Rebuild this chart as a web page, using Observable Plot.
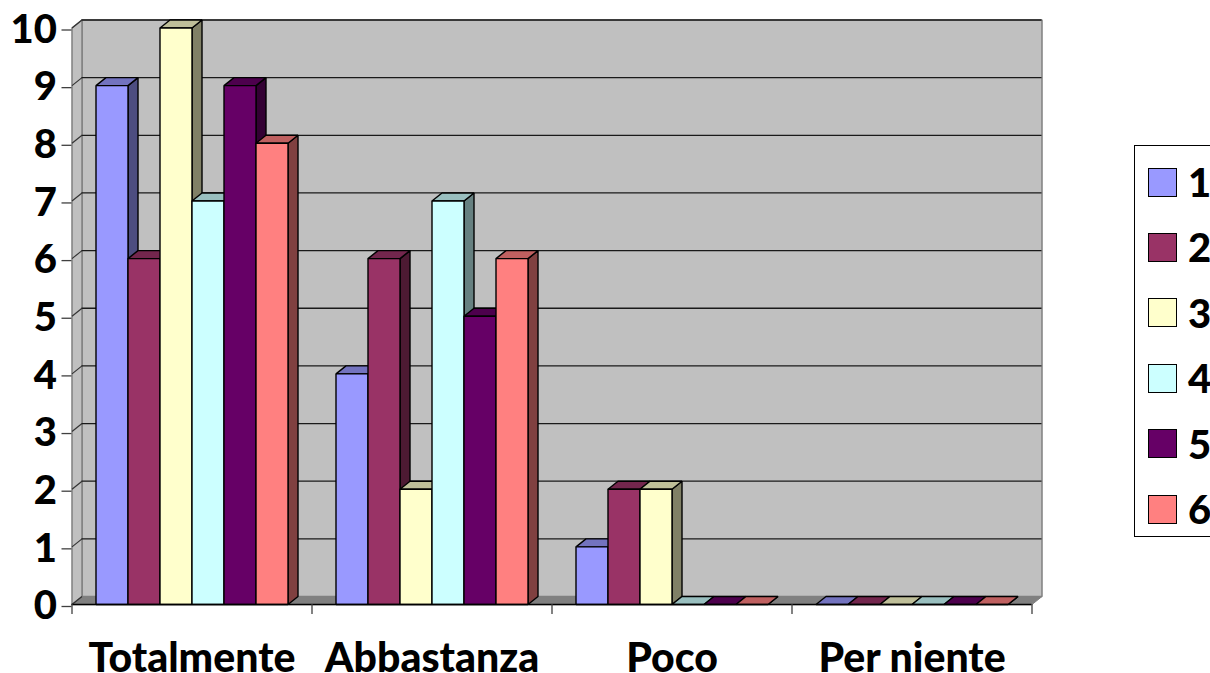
<!DOCTYPE html>
<html>
<head>
<meta charset="utf-8">
<script src="https://cdn.jsdelivr.net/npm/d3@7"></script>
<script src="https://cdn.jsdelivr.net/npm/@observablehq/plot@0.6"></script>
<style>
html,body{margin:0;padding:0;background:#fff;width:1210px;height:673px;overflow:hidden}
#chart{position:relative;width:1210px;height:673px;overflow:hidden}
#chart svg{display:block;position:absolute;left:0;top:0}
#legend{position:absolute;left:1134px;top:145px;width:90px;height:392px;border:1.5px solid #000;background:#fff;box-sizing:border-box;font:900 40px Lato,sans-serif;color:#000}
#legend .row{position:absolute;left:13px;height:30px;display:flex;align-items:center}
#legend .sw{width:29px;height:29px;border:1.5px solid #000;box-sizing:border-box;margin-right:11px}
</style>
</head>
<body>
<div id="chart"></div>
<script>
const categories = ["Totalmente", "Abbastanza", "Poco", "Per niente"];
const seriesNames = ["1", "2", "3", "4", "5", "6"];
const series1 = [9, 4, 1, 0];
const series2 = [6, 6, 2, 0];
const series3 = [10, 2, 2, 0];
const series4 = [7, 7, 0, 0];
const series5 = [9, 5, 0, 0];
const series6 = [8, 6, 0, 0];
const seriesValues = [series1, series2, series3, series4, series5, series6];
const frontColors = ["#9999ff", "#993366", "#ffffcc", "#ccffff", "#660066", "#ff8080"];
const topColors = ["#7373bf", "#73264d", "#bfbf99", "#99bfbf", "#4d004d", "#bf6060"];
const sideColors = ["#4d4d80", "#4d1a33", "#808066", "#668080", "#330033", "#804040"];
const yTicks = [0, 1, 2, 3, 4, 5, 6, 7, 8, 9, 10];
const xBounds = [0, 1, 2, 3, 4];

// depth of the pseudo-3D box in data units
const depthX = 10 / 240;
const depthY = 8 / 57.65;
const barW = 32 / 240;
const groupPad = 24 / 240;

const poly = (id, fill, pts) => pts.map(([x, y]) => ({id, fill, x, y}));

const walls = [
  ...poly("back", "#c0c0c0", [[depthX, depthY], [depthX, 10 + depthY], [4 + depthX, 10 + depthY], [4 + depthX, depthY]]),
  ...poly("left", "#c0c0c0", [[0, 0], [0, 10], [depthX, 10 + depthY], [depthX, depthY]])
];
const floor = poly("floor", "#808080", [[0, 0], [depthX, depthY], [4 + depthX, depthY], [4, 0]]);

const faces = [];
categories.forEach((c, i) => {
  seriesValues.forEach((vals, s) => {
    const v = vals[i];
    const x0 = i + groupPad + s * barW, x1 = x0 + barW;
    faces.push(...poly(`side-${i}-${s}`, sideColors[s], [[x1, 0], [x1 + depthX, depthY], [x1 + depthX, v + depthY], [x1, v]]));
    faces.push(...poly(`top-${i}-${s}`, topColors[s], [[x0, v], [x0 + depthX, v + depthY], [x1 + depthX, v + depthY], [x1, v]]));
    if (v > 0) faces.push(...poly(`front-${i}-${s}`, frontColors[s], [[x0, 0], [x0, v], [x1, v], [x1, 0]]));
  });
});

const polyMark = (data, stroke, strokeWidth) => Plot.line(data, {
  x: "x", y: "y", z: "id", fill: "fill", stroke, strokeWidth, curve: "linear-closed", strokeLinejoin: "miter"
});

const plot = Plot.plot({
  width: 1210,
  height: 673,
  marginLeft: 71.5,
  marginRight: 178.5,
  marginTop: 27.5,
  marginBottom: 69,
  style: {background: "transparent", overflow: "visible"},
  x: {domain: [0, 4], range: [71.5, 1031.5]},
  y: {domain: [0, 10], range: [604, 27.5]},
  color: {type: "identity"},
  marks: [
    polyMark(walls, "#808080", 1.5),
    polyMark(floor, "#808080", 1),
    Plot.ruleY(yTicks.slice(1), {y: d => d + depthY, x1: depthX, x2: 4 + depthX, stroke: "#1a1a1a", strokeWidth: 1.3}),
    Plot.link(yTicks, {x1: 0, x2: depthX, y1: d => d, y2: d => d + depthY, stroke: "#333", strokeWidth: 1.2}),
    polyMark(faces, "#000", 1.4),
    Plot.ruleY([0], {x1: 0, x2: 4, stroke: "#000", strokeWidth: 1.5}),
    Plot.axisY({
      ticks: yTicks, anchor: "left", tickSize: 10, tickPadding: 5, label: null,
      fontSize: 40, fontWeight: 900, fontFamily: "Lato, sans-serif", stroke: "#404040", strokeWidth: 1.3, fill: "#000",
      tickFormat: d => String(d), dy: 2
    }),
    Plot.axisX({
      ticks: xBounds, anchor: "bottom", tickSize: 10, tickFormat: () => "", label: null,
      stroke: "#404040", strokeWidth: 1.3
    }),
    Plot.text(categories, {
      x: (d, i) => i + 0.5, y: 0, text: d => d, dy: 54,
      fontSize: 41, fontWeight: 900, fontFamily: "Lato, sans-serif", fill: "#000"
    })
  ]
});
const root = document.getElementById("chart");
root.appendChild(plot);

const legend = document.createElement("div");
legend.id = "legend";
seriesNames.forEach((n, i) => {
  const row = document.createElement("div");
  row.className = "row";
  row.style.top = (21 + i * 65.4) + "px";
  const sw = document.createElement("div");
  sw.className = "sw";
  sw.style.background = frontColors[i];
  const t = document.createElement("span");
  t.textContent = n;
  row.append(sw, t);
  legend.appendChild(row);
});
root.appendChild(legend);
</script>
</body>
</html>
